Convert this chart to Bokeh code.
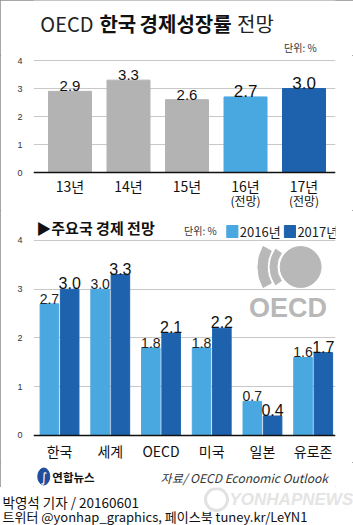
from math import pi
import numpy as np
from bokeh.plotting import figure
from bokeh.layouts import column
from bokeh.models import Range1d, FixedTicker, Span, ColumnDataSource
from bokeh.core.properties import value
from bokeh.embed import file_html
from bokeh.resources import INLINE

# ---------------- data ----------------
years = ["13년", "14년", "15년", "16년", "17년"]
year_notes = ["", "", "", "(전망)", "(전망)"]
growth = [2.9, 3.3, 2.6, 2.7, 3.0]

countries = ["한국", "세계", "OECD", "미국", "일본", "유로존"]
g2016 = [2.7, 3.0, 1.8, 1.8, 0.7, 1.6]
g2017 = [3.0, 3.3, 2.1, 2.2, 0.4, 1.7]
series_names = ["2016년", "2017년"]
y_ticks = [0, 1, 2, 3, 4]

# ---------------- style ----------------
W = 353
KR = value("Noto Sans CJK KR")
NUM = value("Liberation Sans")
GRAY = "#b3b3b3"
LIGHT = "#4aa8e0"
DARK = "#1e62ae"
GRID = "#c8c8c8"
LOGO = "#b8b8b8"
top_colors = [GRAY, GRAY, GRAY, LIGHT, DARK]
top_label_sizes = ["15px", "15px", "15px", "17px", "17px"]


def deco(h):
    p = figure(width=W, height=h, x_range=Range1d(0, W), y_range=Range1d(h, 0),
               output_backend="svg", toolbar_location=None, min_border=0,
               x_axis_location=None, y_axis_location=None)
    p.grid.visible = False
    p.outline_line_color = None
    p.background_fill_color = "white"
    p.border_fill_color = "white"
    return p


def style_chart(p, standoff):
    p.outline_line_color = None
    p.xgrid.visible = False
    p.ygrid.ticker = FixedTicker(ticks=y_ticks)
    p.ygrid.grid_line_color = GRID
    p.ygrid.grid_line_width = 1
    p.yaxis.ticker = FixedTicker(ticks=y_ticks)
    p.yaxis.axis_line_color = None
    p.yaxis.major_tick_line_color = None
    p.yaxis.minor_tick_line_color = None
    p.yaxis.major_label_text_font_size = "9px"
    p.yaxis.major_label_text_color = "#333333"
    p.yaxis.major_label_text_font = "Liberation Sans"
    p.yaxis.major_label_standoff = standoff
    p.add_layout(Span(location=0, dimension="width", line_color="#111111", line_width=1.5))
    p.border_fill_color = "white"


# ---------------- title ----------------
pA = deco(55)
pA.text(x=[8], y=[23], text=["OECD"], text_font=KR, text_font_size="20px",
        text_baseline="middle", text_color="#222222")
pA.text(x=[77, 124], y=[23, 23], text=["한국", "경제성장률"], text_font=KR,
        text_font_size="20px", text_font_style="bold", text_baseline="middle",
        text_color="#111111")
pA.text(x=[238], y=[23], text=["전망"], text_font=KR, text_font_size="20px",
        text_baseline="middle", text_color="#222222")
pA.text(x=[331], y=[47], text=["단위: %"], text_font=KR, text_font_size="10px",
        text_align="right", text_baseline="middle", text_color="#333333")

# ---------------- top chart ----------------
pB = figure(width=W, height=155, x_range=Range1d(-0.624, 4.538),
            y_range=Range1d(-1.357, 4.18), output_backend="svg",
            toolbar_location=None, min_border_left=33, min_border_right=18,
            min_border_top=0, min_border_bottom=0, x_axis_location=None)
style_chart(pB, 5)
idx5 = list(range(len(years)))
srcB = ColumnDataSource(dict(x=idx5, top=growth, color=top_colors,
                             lab=[f"{v:.1f}" for v in growth], size=top_label_sizes,
                             cat=years, note=year_notes))
pB.vbar(x="x", top="top", width=0.735, color="color", source=srcB)
pB.text(x="x", y="top", text="lab", text_font=NUM, text_font_size="size",
        text_align="center", text_baseline="bottom", text_color="#111111", source=srcB)
pB.text(x="x", y=-0.47, text="cat", text_font=KR, text_font_size="14px",
        text_align="center", text_baseline="middle", text_color="#111111", source=srcB)
pB.text(x="x", y=-1.0, text="note", text_font=KR, text_font_size="12px",
        text_align="center", text_baseline="middle", text_color="#111111", source=srcB)

# ---------------- lower chart ----------------
pD = figure(width=W, height=252, x_range=Range1d(-0.513, 5.44),
            y_range=Range1d(-0.554, 4.615), output_backend="svg",
            toolbar_location=None, min_border_left=20, min_border_right=8,
            min_border_top=0, min_border_bottom=0, x_axis_location=None)
style_chart(pD, 5)
# pixel-like helper range (y measured upward from the bottom of this panel)
pD.extra_x_ranges = {"px": Range1d(20, 345)}
pD.extra_y_ranges = {"px": Range1d(0, 252)}
H = 462  # absolute page y of this panel's bottom


def py(y):
    return H - y


idx6 = np.arange(len(countries))
srcL = ColumnDataSource(dict(x=idx6 - 0.2, top=g2016, lab=[f"{v:.1f}" for v in g2016]))
srcR = ColumnDataSource(dict(x=idx6 + 0.2, top=g2017, lab=[f"{v:.1f}" for v in g2017]))
pD.vbar(x="x", top="top", width=0.366, color=LIGHT, source=srcL)
pD.vbar(x="x", top="top", width=0.366, color=DARK, source=srcR)

# OECD logo (decoration, behind labels)
cx, cy = 307.5, py(266.5)
pD.circle(x=[cx], y=[cy], radius=22, color=LOGO, x_range_name="px", y_range_name="px")
pD.annular_wedge(x=[cx, cx], y=[cy, cy], inner_radius=[25.5, 36], outer_radius=[33, 46],
                 start_angle=[pi - 0.62, pi - 0.50], end_angle=[pi + 0.62, pi + 0.50],
                 color=LOGO, x_range_name="px", y_range_name="px")
pD.text(x=[294], y=[py(307)], text=["OECD"], text_font=NUM, text_font_style="bold",
        text_font_size="27px", text_align="center", text_baseline="middle",
        text_color=LOGO, x_range_name="px", y_range_name="px")

pD.text(x="x", y="top", text="lab", text_font=NUM, text_font_size="14px",
        text_align="center", text_baseline="bottom", text_color="#222222", source=srcL)
pD.text(x="x", y="top", text="lab", text_font=NUM, text_font_size="16px",
        text_align="center", text_baseline="bottom", text_color="#111111", source=srcR)
pD.text(x=idx6, y=-0.31, text=countries, text_font=KR, text_font_size="14px",
        text_align="center", text_baseline="middle", text_color="#111111")

# header + legend
pD.text(x=[23], y=[py(227)], text=["▶주요국 경제 전망"], text_font=KR,
        text_font_style="bold", text_font_size="15px", text_baseline="middle",
        text_color="#111111", x_range_name="px", y_range_name="px")
pD.text(x=[182], y=[py(230)], text=["단위: %"], text_font=KR, text_font_size="10px",
        text_baseline="middle", text_color="#333333", x_range_name="px", y_range_name="px")
pD.rect(x=[234, 296], y=[py(231), py(231)], width=12, height=12, color=[LIGHT, DARK],
        x_range_name="px", y_range_name="px")
pD.text(x=[242, 304], y=[py(231), py(231)], text=series_names, text_font=KR,
        text_font_size="13px", text_baseline="middle", text_color="#222222",
        x_range_name="px", y_range_name="px")

# ---------------- footer inside frame ----------------
pE = deco(25)
pE.ellipse(x=[12], y=[14], width=14, height=17, color="#1f4e9c")
pE.text(x=[12], y=[14.5], text=["∫"], text_font=value("DejaVu Sans"), text_font_size="13px",
        text_align="center", text_baseline="middle", text_color="white")
pE.text(x=[22], y=[14], text=["연합뉴스"], text_font=KR, text_font_style="bold",
        text_font_size="11.5px", text_baseline="middle", text_color="#111111")
pE.text(x=[344], y=[15], text=["자료/ OECD Economic Outlook"], text_font=KR,
        text_font_style="italic", text_font_size="12px", text_align="right",
        text_baseline="middle", text_color="#333333")

inner = column(pA, pB, pD, pE, spacing=0,
               styles={"outline": "1.5px solid #8a8a8a", "outline-offset": "-1.5px"})

# ---------------- byline ----------------
pF = deco(38)
pF.circle(x=[216], y=[12], radius=11, fill_color=None, line_color="#e2e2e2", line_width=3)
pF.text(x=[229], y=[12], text=["YONHAPNEWS"], text_font=NUM, text_font_style="bold italic",
        text_font_size="17px", text_baseline="middle", text_color="#e4e4e4")
pF.text(x=[2], y=[14], text=["박영석 기자 / 20160601"], text_font=KR,
        text_font_size="13.5px", text_baseline="middle", text_color="#111111")
pF.text(x=[2], y=[28.5], text=["트위터 @yonhap_graphics, 페이스북 tuney.kr/LeYN1"],
        text_font=KR, text_font_size="13px", text_baseline="middle", text_color="#111111")

layout = column(inner, pF, spacing=0)
open("out.html", "w").write(file_html(layout, INLINE))
